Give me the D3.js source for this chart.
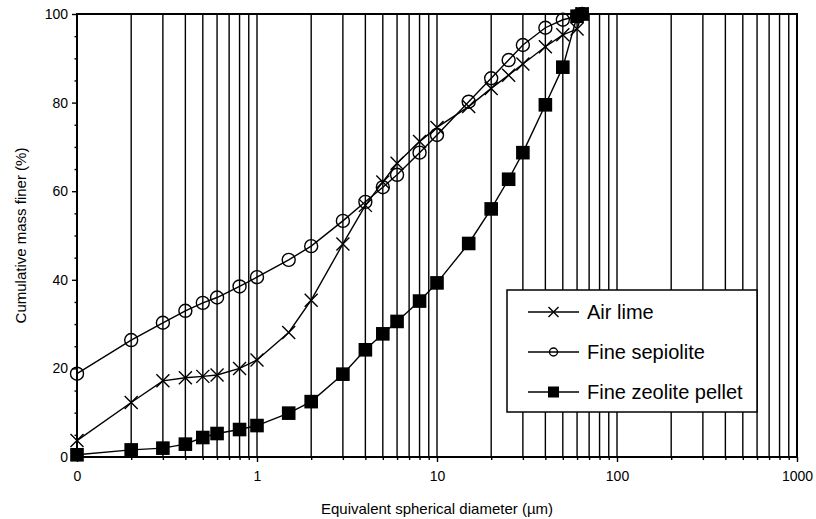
<!DOCTYPE html>
<html>
<head>
<meta charset="utf-8">
<script src="https://cdn.jsdelivr.net/npm/d3@7"></script>
<style>
  body { margin: 0; background: #fff; }
  text { font-family: Arial, "Liberation Sans", sans-serif; fill: #000; }
</style>
</head>
<body>
<svg id="chart" width="816" height="519"></svg>
<script>
// Particle size distribution (cumulative mass finer, %) against diameter (µm)
const diameters = [0.1, 0.2, 0.3, 0.4, 0.5, 0.6, 0.8, 1, 1.5, 2, 3, 4, 5, 6, 8, 10, 15, 20, 25, 30, 40, 50, 60, 64];
const airLime = [3.7, 12.3, 17.2, 17.9, 18.2, 18.5, 20.0, 21.9, 28.1, 35.4, 48.1, 56.8, 62.1, 66.3, 71.2, 74.4, 79.1, 83.2, 86.2, 88.7, 92.6, 95.3, 96.6, 100];
const fineSepiolite = [18.8, 26.4, 30.3, 33.0, 34.8, 36.0, 38.5, 40.6, 44.5, 47.6, 53.3, 57.6, 60.9, 63.7, 68.7, 72.7, 80.2, 85.5, 89.6, 93.0, 96.9, 98.7, 99.5, 100];
const fineZeolitePellet = [0.5, 1.6, 2.0, 2.9, 4.4, 5.3, 6.2, 7.1, 9.9, 12.5, 18.7, 24.2, 27.8, 30.6, 35.2, 39.3, 48.2, 56.0, 62.7, 68.7, 79.5, 88.0, 99.5, 100];

const seriesNames = ["Air lime", "Fine sepiolite", "Fine zeolite pellet"];
const seriesMarkers = ["cross", "circle", "square"];

const xMajorTicks = [0.1, 1, 10, 100, 1000];
const xMajorLabels = ["0", "1", "10", "100", "1000"];
const yMajorTicks = [0, 20, 40, 60, 80, 100];

const xTitle = "Equivalent spherical diameter (\u00b5m)";
const yTitle = "Cumulative mass finer (%)";

// ---- layout ----
const L = 77, R = 797, T = 14, B = 457;
const svg = d3.select("#chart");
const x = d3.scaleLog().domain([0.1, 1000]).range([L, R]);
const y = d3.scaleLinear().domain([0, 100]).range([B, T]);

// minor positions 2..9 within each decade
const xMinor = [];
[0.1, 1, 10, 100].forEach(d => {
  for (let k = 2; k <= 9; k++) xMinor.push(+(k * d).toPrecision(3));
});
const xGrid = xMinor.concat([1, 10, 100]);
const yMinor = d3.range(5, 100, 5).filter(v => v % 20 !== 0);

// vertical grid lines
svg.append("g")
  .selectAll("line")
  .data(xGrid)
  .join("line")
  .attr("x1", d => x(d)).attr("x2", d => x(d))
  .attr("y1", T).attr("y2", B)
  .attr("stroke", "#000").attr("stroke-width", 1.4);

// bottom axis: major and minor ticks
const xAxisMajor = d3.axisBottom(x)
  .tickValues(xMajorTicks)
  .tickSize(5)
  .tickPadding(9)
  .tickFormat((d, i) => xMajorLabels[i]);
const gx = svg.append("g").attr("transform", `translate(0,${B})`).call(xAxisMajor);
gx.select(".domain").remove();
gx.selectAll(".tick line").attr("stroke", "#000").attr("stroke-width", 1.4);
gx.selectAll(".tick text").attr("font-size", 14).attr("font-family", "Arial, 'Liberation Sans', sans-serif");

const gxm = svg.append("g").attr("transform", `translate(0,${B})`)
  .call(d3.axisBottom(x).tickValues(xMinor).tickSize(3).tickFormat(""));
gxm.select(".domain").remove();
gxm.selectAll(".tick line").attr("stroke", "#000").attr("stroke-width", 1.4);

// left axis: major and minor ticks
const gy = svg.append("g").attr("transform", `translate(${L},0)`)
  .call(d3.axisLeft(y).tickValues(yMajorTicks).tickSize(5).tickPadding(4).tickFormat(d3.format("d")));
gy.select(".domain").remove();
gy.selectAll(".tick line").attr("stroke", "#000").attr("stroke-width", 1.4);
gy.selectAll(".tick text").attr("font-size", 14).attr("font-family", "Arial, 'Liberation Sans', sans-serif");

const gym = svg.append("g").attr("transform", `translate(${L},0)`)
  .call(d3.axisLeft(y).tickValues(yMinor).tickSize(2.5).tickFormat(""));
gym.select(".domain").remove();
gym.selectAll(".tick line").attr("stroke", "#000").attr("stroke-width", 1.4);

// plot frame
svg.append("rect")
  .attr("x", L).attr("y", T).attr("width", R - L).attr("height", B - T)
  .attr("fill", "none").attr("stroke", "#000").attr("stroke-width", 2);

// axis titles
svg.append("text")
  .attr("x", (L + R) / 2).attr("y", 514)
  .attr("text-anchor", "middle").attr("font-size", 15)
  .text(xTitle);
svg.append("text")
  .attr("transform", `translate(26,${(T + B) / 2}) rotate(-90)`)
  .attr("text-anchor", "middle").attr("font-size", 15)
  .text(yTitle);

// marker drawing
function drawMarker(g, type, cx, cy, s) {
  if (type === "cross") {
    g.append("path")
      .attr("d", `M${cx - s},${cy - s}L${cx + s},${cy + s}M${cx - s},${cy + s}L${cx + s},${cy - s}`)
      .attr("stroke", "#000").attr("stroke-width", 1.4).attr("fill", "none");
  } else if (type === "circle") {
    g.append("circle")
      .attr("cx", cx).attr("cy", cy).attr("r", s)
      .attr("stroke", "#000").attr("stroke-width", 1.4).attr("fill", "none");
  } else {
    g.append("rect")
      .attr("x", cx - s).attr("y", cy - s).attr("width", 2 * s).attr("height", 2 * s)
      .attr("fill", "#000");
  }
}
const markerSize = { cross: 6.5, circle: 6.5, square: 6.8 };
const legendSize = { cross: 5, circle: 4, square: 5.5 };

const allSeries = [airLime, fineSepiolite, fineZeolitePellet];
const line = d3.line().x(d => x(d[0])).y(d => y(d[1]));

allSeries.forEach((vals, si) => {
  const pts = diameters.map((d, i) => [d, vals[i]]);
  const g = svg.append("g");
  g.append("path")
    .attr("d", line(pts))
    .attr("fill", "none").attr("stroke", "#000").attr("stroke-width", 1.4);
  pts.forEach(p => drawMarker(g, seriesMarkers[si], x(p[0]), y(p[1]), markerSize[seriesMarkers[si]]));
});

// legend
const lg = svg.append("g");
lg.append("rect")
  .attr("x", 507).attr("y", 290).attr("width", 250).attr("height", 122)
  .attr("fill", "#fff").attr("stroke", "#000").attr("stroke-width", 1.5);
seriesNames.forEach((name, i) => {
  const cy = 312 + i * 40;
  lg.append("line").attr("x1", 528).attr("x2", 579).attr("y1", cy).attr("y2", cy)
    .attr("stroke", "#000").attr("stroke-width", 1.4);
  drawMarker(lg, seriesMarkers[i], 553.5, cy, legendSize[seriesMarkers[i]]);
  lg.append("text").attr("x", 587).attr("y", cy + 7).attr("font-size", 20).text(name);
});
</script>
</body>
</html>
